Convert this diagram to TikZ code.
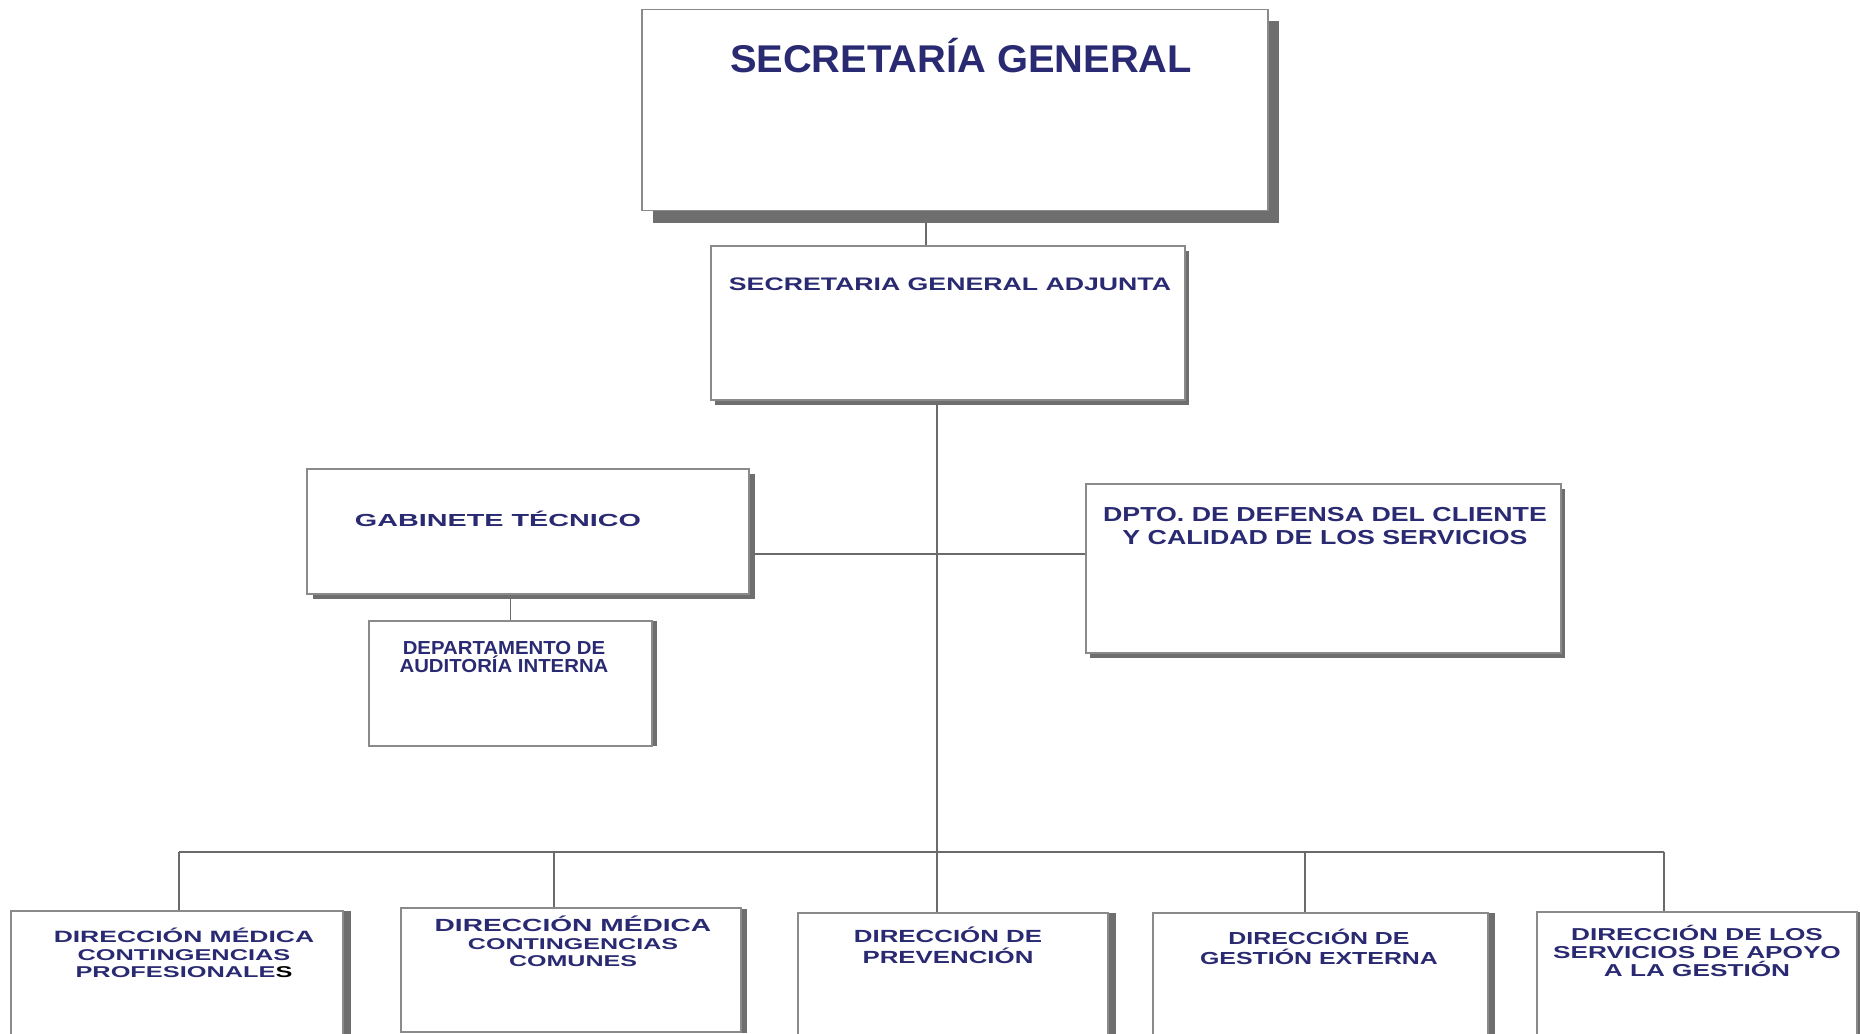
\documentclass[tikz,border=0pt]{standalone}
\usepackage{fontspec}
\usepackage{tikz}
\usetikzlibrary{shadows,backgrounds}
\definecolor{Ink}{HTML}{2A2A72}
\definecolor{BoxGrey}{HTML}{8A8A8A}
\definecolor{ShadowGrey}{HTML}{6E6E6E}
\definecolor{LinkGrey}{HTML}{6A6A6A}
\newcommand{\subline}{\fontsize{4.45}{5}\selectfont}

\begin{document}
\begin{tikzpicture}[x=0.01cm,y=-0.01cm,
  box/.style={draw=BoxGrey,fill=white,line width=0.5pt,inner sep=0pt},
  shd/.style 2 args={drop shadow={shadow xshift=#1,shadow yshift=#2,fill=ShadowGrey,opacity=1}},
  lbl/.style n args={3}{font={\fontspec[FakeStretch=#1]{Liberation Sans}\bfseries\fontsize{#2}{#3}\selectfont},
    text=Ink,align=center,inner sep=0pt,anchor=base},
  link/.style={draw=LinkGrey,line width=0.35pt}
]
  \useasboundingbox (0,0) rectangle (1860,1034);
  \clip (0,0) rectangle (1860,1034);

  % top: secretaria general and adjunta
  \node[box,shd={0.11cm}{-0.12cm},minimum width=6.26cm,minimum height=2.01cm] (sg) at (955,110) {};
  \node[lbl={1.03}{11}{13}] (sgT) at (961,73) {SECRETARÍA GENERAL};
  \node[box,shd={0.04cm}{-0.05cm},minimum width=4.74cm,minimum height=1.54cm] (sga) at (948,323) {};
  \node[lbl={1.47}{5.16}{6}] (sgaT) at (950,291) {SECRETARIA GENERAL ADJUNTA};

  % staff units (base = last line)
  \node[box,shd={0.06cm}{-0.05cm},minimum width=4.42cm,minimum height=1.25cm] (gt) at (528,531.5) {};
  \node[lbl={1.65}{4.96}{6}] (gtT) at (498,527) {GABINETE TÉCNICO};
  \node[box,shd={0.05cm}{0cm},minimum width=2.83cm,minimum height=1.25cm] (au) at (510.5,683.5) {};
  \node[lbl={1.08}{5.36}{5.4}] (auT) at (504,673) {DEPARTAMENTO DE\\AUDITORÍA INTERNA};
  \node[box,shd={0.04cm}{-0.05cm},minimum width=4.75cm,minimum height=1.69cm] (dd) at (1323.5,568.5) {};
  \node[lbl={1.32}{5.76}{6.54}] (ddT) at (1325,545) {DPTO. DE DEFENSA DEL CLIENTE\\Y CALIDAD DE LOS SERVICIOS};

  % direcciones
  \node[box,shd={0.08cm}{0cm},minimum width=3.32cm,minimum height=1.49cm] (b1) at (177,985.5) {};
  \node[lbl={1.62}{4.65}{4.98}] (b1T) at (184,978) {DIRECCIÓN MÉDICA\\\subline CONTINGENCIAS\\\subline PROFESIONALE{\color{black}S}};
  \node[box,shd={0.06cm}{-0.01cm},minimum width=3.40cm,minimum height=1.24cm] (b2) at (571,970) {};
  \node[lbl={1.6}{5.0}{4.98}] (b2T) at (573,967) {DIRECCIÓN MÉDICA\\\subline CONTINGENCIAS\\\subline COMUNES};
  \node[box,shd={0.08cm}{0cm},minimum width=3.10cm,minimum height=1.47cm] (b3) at (953,986.5) {};
  \node[lbl={1.47}{5.0}{5.69}] (b3T) at (948,963) {DIRECCIÓN DE\\PREVENCIÓN};
  \node[box,shd={0.07cm}{0cm},minimum width=3.35cm,minimum height=1.47cm] (b4) at (1320.5,986.5) {};
  \node[lbl={1.43}{4.95}{5.69}] (b4T) at (1319,965) {DIRECCIÓN DE\\GESTIÓN EXTERNA};
  \node[box,shd={0.04cm}{0cm},minimum width=3.20cm,minimum height=1.48cm] (b5) at (1697,986) {};
  \node[lbl={1.52}{4.9}{5.12}] (b5T) at (1697,977) {DIRECCIÓN DE LOS\\SERVICIOS DE APOYO\\A LA GESTIÓN};

  % connectors behind the boxes
  \begin{scope}[on background layer]
    \draw[link] ([shift={(-29,0)}]sg.south) -- ([shift={(-22,0)}]sga.north);
    \coordinate (tr) at ([shift={(-11,0)}]sga.south);
    \draw[link] (tr) -- (tr |- b3.north);
    \coordinate (jn) at ([shift={(0,22.5)}]gt.east);
    \draw[link] (jn) -- (jn -| dd.west);
    \draw[link] (au.north) -- (au.north |- gt.south);
    \coordinate (d1) at (179,852);
    \coordinate (d2) at (554,852);
    \coordinate (d4) at (1305,852);
    \coordinate (d5) at (1664,852);
    \draw[link] (d1) -- (d5);
    \draw[link] (d1) -- (d1 |- b1.north);
    \draw[link] (d2) -- (d2 |- b2.north);
    \draw[link] (d4) -- (d4 |- b4.north);
    \draw[link] (d5) -- (d5 |- b5.north);
  \end{scope}
\end{tikzpicture}
\end{document}
